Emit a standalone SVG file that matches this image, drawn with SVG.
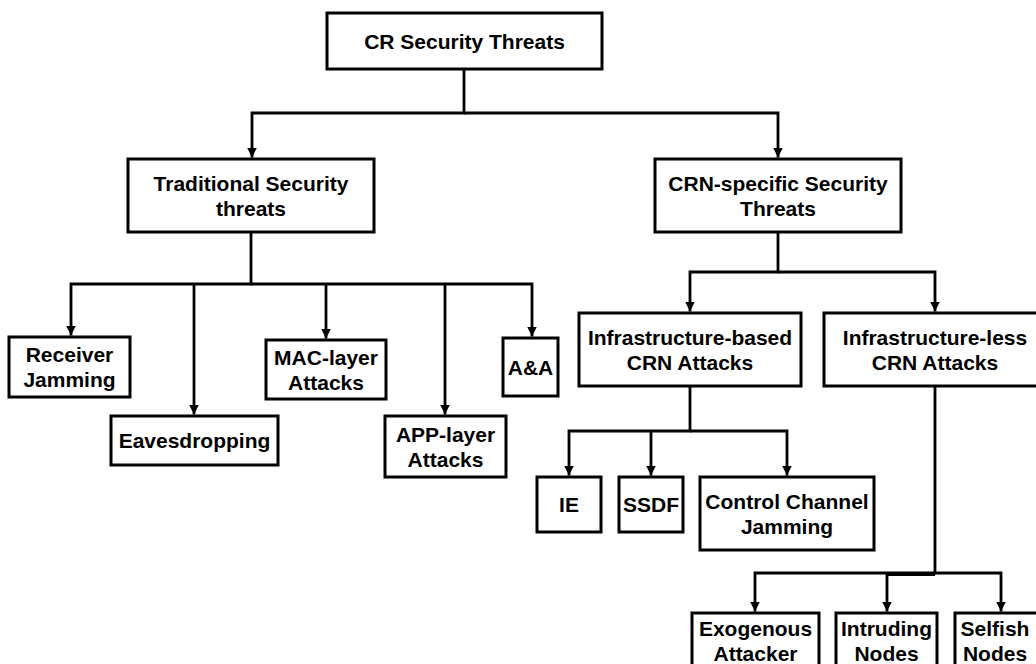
<svg xmlns="http://www.w3.org/2000/svg" width="1036" height="664" viewBox="0 0 1036 664">
<style>
.box{fill:#fff;stroke:#000;stroke-width:3}
.lbl{font-family:"Liberation Sans",Arial,sans-serif;font-weight:bold;font-size:21px;fill:#000;text-anchor:middle}
.con{fill:none;stroke:#000;stroke-width:2.8}
</style>
<defs>
<marker id="ah" viewBox="0 0 10 10" refX="10" refY="5" markerWidth="10" markerHeight="10" markerUnits="userSpaceOnUse" orient="auto"><path d="M0,0 L10,5 L0,10 z" fill="#000"/></marker>
</defs>
<rect width="1036" height="664" fill="#fff"/>
<g id="connectors">
<path class="con" d="M464,69 V113 H252 V157.5" marker-end="url(#ah)"/>
<path class="con" d="M464,113 H778 V157.5" marker-end="url(#ah)"/>
<path class="con" d="M251,232 V284 H71 V335.5" marker-end="url(#ah)"/>
<path class="con" d="M251,284 H532 V336.5" marker-end="url(#ah)"/>
<path class="con" d="M194,284 V414.5" marker-end="url(#ah)"/>
<path class="con" d="M326,284 V338.5" marker-end="url(#ah)"/>
<path class="con" d="M445,284 V414.5" marker-end="url(#ah)"/>
<path class="con" d="M778,232 V272 H690 V311.5" marker-end="url(#ah)"/>
<path class="con" d="M778,272 H935 V311.5" marker-end="url(#ah)"/>
<path class="con" d="M690,386 V431 H569 V475.5" marker-end="url(#ah)"/>
<path class="con" d="M690,431 H787 V475.5" marker-end="url(#ah)"/>
<path class="con" d="M651,431 V475.5" marker-end="url(#ah)"/>
<path class="con" d="M935,386 V573 H755 V611.5" marker-end="url(#ah)"/>
<path class="con" d="M935,573 H1001 V611.5" marker-end="url(#ah)"/>
<path class="con" d="M887,573 V611.5" marker-end="url(#ah)"/>
<path class="con" d="M887,574.5 H935"/>
</g>
<g id="n-root"><rect class="box" x="327" y="13" width="275" height="56"/><text class="lbl" x="464.5" y="48.5">CR Security Threats</text></g>
<g id="n-trad"><rect class="box" x="128" y="159" width="246" height="73"/><text class="lbl" x="251" y="191">Traditional Security</text><text class="lbl" x="251" y="216">threats</text></g>
<g id="n-crn"><rect class="box" x="655" y="159" width="246" height="73"/><text class="lbl" x="778" y="191">CRN-specific Security</text><text class="lbl" x="778" y="216">Threats</text></g>
<g id="n-receiver"><rect class="box" x="9" y="337" width="121" height="60"/><text class="lbl" x="69.5" y="362">Receiver</text><text class="lbl" x="69.5" y="387">Jamming</text></g>
<g id="n-eaves"><rect class="box" x="111" y="416" width="167" height="49"/><text class="lbl" x="194.5" y="448">Eavesdropping</text></g>
<g id="n-mac"><rect class="box" x="266" y="340" width="120" height="59"/><text class="lbl" x="326" y="364.5">MAC-layer</text><text class="lbl" x="326" y="389.5">Attacks</text></g>
<g id="n-app"><rect class="box" x="385" y="416" width="121" height="61"/><text class="lbl" x="445.5" y="441.5">APP-layer</text><text class="lbl" x="445.5" y="466.5">Attacks</text></g>
<g id="n-aa"><rect class="box" x="503" y="338" width="55" height="58"/><text class="lbl" x="530.5" y="374.5">A&amp;A</text></g>
<g id="n-infra-based"><rect class="box" x="579" y="313" width="222" height="73"/><text class="lbl" x="690" y="345">Infrastructure-based</text><text class="lbl" x="690" y="370">CRN Attacks</text></g>
<g id="n-infra-less"><rect class="box" x="824" y="313" width="222" height="73"/><text class="lbl" x="935" y="345">Infrastructure-less</text><text class="lbl" x="935" y="370">CRN Attacks</text></g>
<g id="n-ie"><rect class="box" x="537" y="477" width="64" height="55"/><text class="lbl" x="569" y="512">IE</text></g>
<g id="n-ssdf"><rect class="box" x="619" y="477" width="64" height="55"/><text class="lbl" x="651" y="512">SSDF</text></g>
<g id="n-ccj"><rect class="box" x="700" y="477" width="174" height="73"/><text class="lbl" x="787" y="508.5">Control Channel</text><text class="lbl" x="787" y="533.5">Jamming</text></g>
<g id="n-exo"><rect class="box" x="692" y="613" width="127" height="80"/><text class="lbl" x="755.5" y="636">Exogenous</text><text class="lbl" x="755.5" y="661">Attacker</text></g>
<g id="n-intr"><rect class="box" x="836" y="613" width="101" height="80"/><text class="lbl" x="886.5" y="636">Intruding</text><text class="lbl" x="886.5" y="661">Nodes</text></g>
<g id="n-selfish"><rect class="box" x="955" y="613" width="95" height="80"/><text class="lbl" x="995" y="636">Selfish</text><text class="lbl" x="995" y="661">Nodes</text></g>
</svg>
